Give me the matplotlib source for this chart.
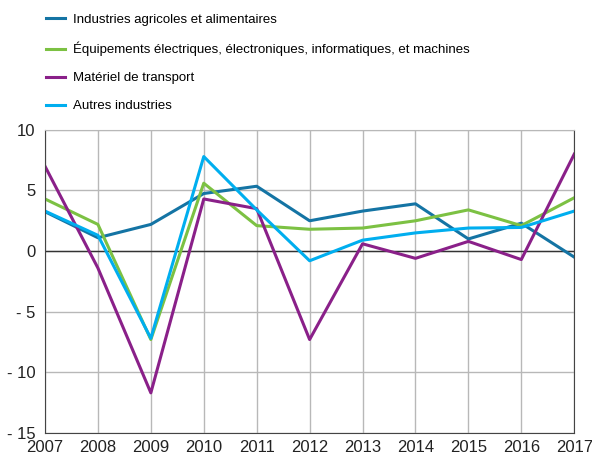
import matplotlib
matplotlib.use("Agg")
import matplotlib.pyplot as plt

# === Data ===
years = [2007, 2008, 2009, 2010, 2011, 2012, 2013, 2014, 2015, 2016, 2017]
agri = [3.25, 1.1, 2.2, 4.75, 5.35, 2.5, 3.3, 3.9, 1.0, 2.3, -0.5]
equip = [4.3, 2.2, -7.3, 5.6, 2.1, 1.8, 1.9, 2.5, 3.4, 2.1, 4.4]
transport = [7.0, -1.4, -11.7, 4.3, 3.5, -7.3, 0.6, -0.6, 0.8, -0.7, 8.0]
autres = [3.3, 1.3, -7.2, 7.8, 3.4, -0.8, 0.9, 1.5, 1.9, 1.95, 3.3]

labels = ["Industries agricoles et alimentaires",
          "Équipements électriques, électroniques, informatiques, et machines",
          "Matériel de transport",
          "Autres industries"]
colors = ["#1474a4", "#7cc143", "#8a2089", "#00aeef"]
yticks = [10, 5, 0, -5, -10, -15]
ytick_labels = ["10", "5", "0", "- 5", "- 10", "- 15"]

plt.rcParams['font.family'] = ['Liberation Sans', 'DejaVu Sans']

fig = plt.figure(figsize=(5.92, 4.59), dpi=100)
ax = fig.add_axes([0.076, 0.057, 0.894, 0.66])

for vals, lab, c in zip([agri, equip, transport, autres], labels, colors):
    ax.plot(years, vals, color=c, lw=2.2, label=lab)

ax.axhline(0, color="#333333", lw=1.0, zorder=1)
ax.set_xlim(2007, 2017)
ax.set_ylim(-15, 10)
ax.set_xticks(years)
ax.set_yticks(yticks)
ax.set_yticklabels(ytick_labels)
ax.grid(True, color="#b8b8b8", lw=1.0)
ax.set_axisbelow(True)
ax.tick_params(length=0, labelsize=12, colors="#222222")
ax.tick_params(axis="x", pad=5)
ax.tick_params(axis="y", pad=7)
for s in ["left", "bottom", "right"]:
    ax.spines[s].set_color("#444444")
ax.spines["top"].set_color("#b8b8b8")

fig.legend(loc="upper left", bbox_to_anchor=(0.066, 0.986), frameon=False,
           fontsize=9.5, handlelength=1.4, labelspacing=1.2, handletextpad=0.6,
           borderaxespad=0.15)

fig.savefig("out.png", dpi=100)
